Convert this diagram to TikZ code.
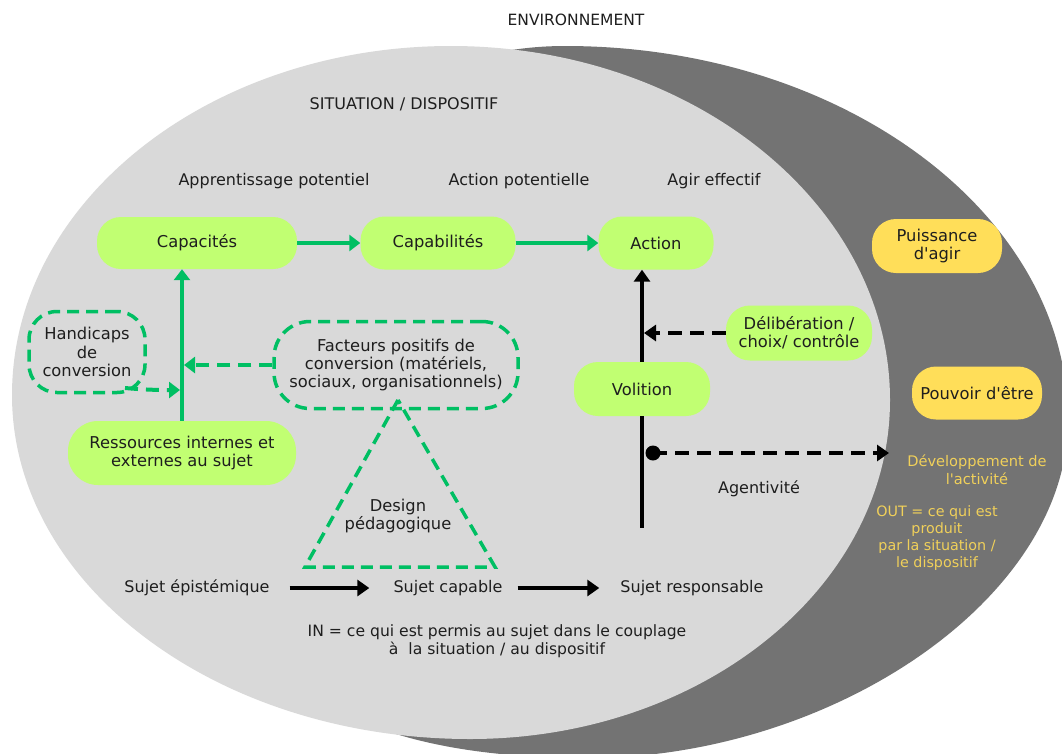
\documentclass[tikz,border=0pt]{standalone}
\usepackage{fontspec}
\setmainfont{DejaVu Sans}
\usetikzlibrary{arrows.meta}
\definecolor{lightbg}{HTML}{D9D9D9}
\definecolor{darkbg}{HTML}{737373}
\definecolor{lime}{HTML}{C1FF72}
\definecolor{grn}{HTML}{00BF63}
\definecolor{ylw}{HTML}{FFDE59}
\definecolor{ytext}{HTML}{F0D05A}
\definecolor{txt}{HTML}{1E1E1E}
\newcommand\fsA{\fontsize{16.3pt}{18.4pt}\selectfont}
\newcommand\fsB{\fontsize{16pt}{18pt}\selectfont}
\newcommand\fsY{\fontsize{14.6pt}{18pt}\selectfont}
\newcommand\fsO{\fontsize{14.3pt}{17pt}\selectfont}
\tikzset{
 lbox/.style={fill=lime, rounded corners=24pt, inner sep=0pt, align=center, font=\fsA, text=txt},
 ybox/.style={fill=ylw, rounded corners=24pt, inner sep=0pt, align=center, font=\fsA, text=txt},
 dbox/.style={draw=grn, line width=3.5pt, dash pattern=on 12pt off 7pt, inner sep=0pt, align=center, font=\fsA, text=txt},
 plain/.style={inner sep=0pt, align=center, font=\fsB, text=txt},
 ytxt/.style={inner sep=0pt, align=center, text=ytext},
 garrow/.style={draw=grn, line width=4pt, -{Triangle[length=11pt,width=16pt]}},
 gdarrow/.style={garrow, dash pattern=on 13pt off 8pt},
 barrow/.style={draw=black, line width=4pt, -{Triangle[length=12pt,width=16pt]}},
 bdarrow/.style={barrow, dash pattern=on 14pt off 8pt},
 bline/.style={draw=black, line width=4pt},
}
\begin{document}
\begin{tikzpicture}[x=1pt,y=-1pt]
\clip (0,0) rectangle (1062,753);
\fill[white] (0,0) rectangle (1062,753);
% environment (dark) and situation (light) shapes
\fill[darkbg] (565,46) .. controls (843,46) and (1068,214) .. (1068,420)
  .. controls (1068,600) and (830,758) .. (588,758)
  .. controls (260,758) and (200,609) .. (200,420)
  .. controls (200,214) and (364,46) .. (565,46) -- cycle;
\fill[lightbg] (451,46) .. controls (693,46) and (890,205) .. (890,400)
  .. controls (890,587) and (702,739) .. (470,739)
  .. controls (217,739) and (12,585) .. (12,395)
  .. controls (12,202) and (209,46) .. (451,46) -- cycle;

% titles
\node[plain, font=\fontsize{15.5pt}{18pt}\selectfont] (env) at (576,20) {ENVIRONNEMENT};
\node[plain] (sit) at (404,104) {SITUATION / DISPOSITIF};
\node[plain] (app) at (274,181) {Apprentissage potentiel};
\node[plain] (actp) at (519,181) {Action potentielle};
\node[plain] (agir) at (714,181) {Agir effectif};

% lime boxes
\node[lbox, minimum width=200pt, minimum height=52pt] (cap) at (197,243) {Capacités};
\node[lbox, minimum width=155pt, minimum height=53pt] (capab) at (438,243) {Capabilités};
\node[lbox, minimum width=115pt, minimum height=53pt] (act) at (656,243) {Action};
\node[lbox, minimum width=228pt, minimum height=64pt, rounded corners=30pt] (res) at (182,453) {Ressources internes et\\externes au sujet};
\node[lbox, minimum width=136pt, minimum height=54pt] (vol) at (642,389) {Volition};
\node[lbox, minimum width=146pt, minimum height=55pt] (del) at (799,333) {Délibération /\\choix/ contrôle};

% yellow boxes
\node[ybox, minimum width=130pt, minimum height=54pt] (pui) at (937,246) {Puissance\\d\textquotesingle agir};
\node[ybox, minimum width=130pt, minimum height=53pt] (pou) at (977,393) {Pouvoir d\textquotesingle être};

% dashed boxes
\node[dbox, minimum width=116pt, minimum height=81pt, rounded corners=28pt] (hand) at (87,352) {Handicaps\\de\\conversion};
\node[dbox, minimum width=244pt, minimum height=87pt, rounded corners=36pt] (fac) at (396,365) {Facteurs positifs de\\conversion (matériels,\\sociaux, organisationnels)};

% triangle
\coordinate (tA) at (398,400);
\coordinate (tB) at (305,567);
\coordinate (tC) at (495,567);
\draw[draw=grn, line width=3.5pt, dash pattern=on 12pt off 7pt, line join=miter] (tA) -- (tB) -- (tC) -- cycle;
\node[plain, font=\fsA] (des) at (398,516) {Design\\pédagogique};

% green connectors
\draw[garrow] (cap.east) -- (capab.west);
\draw[garrow] (capab.east) -- (act.west);
\draw[garrow] (res.north) -- (res.north |- cap.south);
\coordinate (jf) at (fac.west -| res.north);
\draw[gdarrow, shorten >=2pt] (fac.west) -- (jf);
\coordinate (hs) at (125,388);
\coordinate (jh) at (182,390);
\draw[gdarrow, shorten >=2pt] (hs) to[out=-5,in=180] (jh);

% black connectors
\draw[barrow] (vol.north) -- (vol.north |- act.south);
\coordinate (vbot) at (642,528);
\draw[bline] (vol.south) -- (vbot);
\coordinate (jd) at (del.west -| vol.north);
\draw[bdarrow, shorten >=2pt] (del.west) -- (jd);
\coordinate (dot) at (653,453);
\fill[black] (dot) circle (7.5pt);
\coordinate (devin) at (889,453);
\draw[bdarrow] (dot) -- (devin);
\node[plain] (agt) at (759,489) {Agentivité};

% bottom row
\node[plain] (se) at (197,588) {Sujet épistémique};
\node[plain] (sc) at (448,588) {Sujet capable};
\node[plain] (sr) at (692,588) {Sujet responsable};
\draw[barrow, line width=4.5pt, shorten <=20pt, shorten >=24pt] (se.east) -- (sc.west);
\draw[barrow, line width=4.5pt, shorten <=15pt, shorten >=21pt] (sc.east) -- (sr.west);
\node[plain, font=\fontsize{15.6pt}{18pt}\selectfont] (in) at (497,641) {IN = ce qui est permis au sujet dans le couplage\\à\ \ la situation / au dispositif};

% yellow texts
\node[ytxt, font=\fsY] (dev) at (977,470) {Développement de\\l\textquotesingle activité};
\node[ytxt, font=\fsO] (out) at (937,538) {OUT = ce qui est\\produit\\par la situation /\\le dispositif};
\end{tikzpicture}
\end{document}
